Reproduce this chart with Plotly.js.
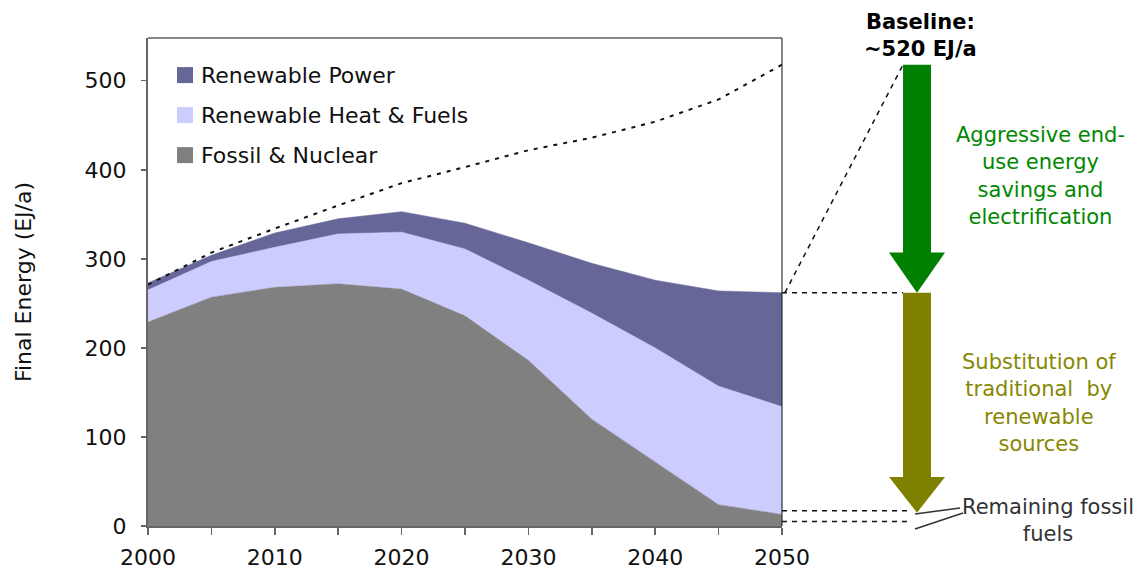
<!DOCTYPE html>
<html>
<head>
<meta charset="utf-8">
<script src="https://cdn.plot.ly/plotly-3.0.1.min.js"></script>
<style>
  html, body { margin: 0; padding: 0; background: #ffffff; }
  #chart { width: 1143px; height: 572px; }
</style>
</head>
<body>
<div id="chart"></div>
<script>
// Final energy scenario, EJ/a
const years = [2000, 2005, 2010, 2015, 2020, 2025, 2030, 2035, 2040, 2045, 2050];
const fossilNuclear = [229, 257, 268, 272, 266, 236, 186, 120, 72, 24, 13];
const renewableHeatFuels = [36, 40, 45, 56, 64, 75, 90, 119, 128, 133, 121];
const renewablePower = [8, 7, 16, 17, 23, 29, 42, 56, 76, 107, 128];
const baseline = [271, 307, 334, 360, 385, 403, 422, 436, 454, 479, 518];

const seriesNames = ['Renewable Power', 'Renewable Heat & Fuels', 'Fossil & Nuclear'];
const seriesColors = ['#666699', '#ccccff', '#808080'];

const xTickVals = [2000, 2005, 2010, 2015, 2020, 2025, 2030, 2035, 2040, 2045, 2050];
const xTickText = ['2000', '', '2010', '', '2020', '', '2030', '', '2040', '', '2050'];
const yTickVals = [0, 100, 200, 300, 400, 500];

// remaining fossil band marked to the right of the plot
const remainingFossilBand = [17, 5];

const FONT = 'DejaVu Sans, Verdana, sans-serif';

const last = years.length - 1;
const total2050 = fossilNuclear[last] + renewableHeatFuels[last] + renewablePower[last];
const baseline2050 = baseline[last];
const fossilTip = 15;

// horizontal positions (paper units) of the arrow column
const shaftL = 1.1909, shaftR = 1.2350, headL = 1.1688, headR = 1.2571, mid = 1.2129;

function arrowPath(top, tip, headLen) {
  const h = tip + headLen;
  return `M${shaftL},${top} L${shaftR},${top} L${shaftR},${h} L${headR},${h} ` +
         `L${mid},${tip} L${headL},${h} L${shaftL},${h} Z`;
}

const traces = [
  {
    x: years, y: fossilNuclear, name: seriesNames[2], type: 'scatter', mode: 'lines',
    stackgroup: 'energy', line: {width: 0.5, color: seriesColors[2]}, fillcolor: seriesColors[2],
    showlegend: false, hoverinfo: 'x+y+name'
  },
  {
    x: years, y: renewableHeatFuels, name: seriesNames[1], type: 'scatter', mode: 'lines',
    stackgroup: 'energy', line: {width: 0.5, color: seriesColors[1]}, fillcolor: seriesColors[1],
    showlegend: false, hoverinfo: 'x+y+name'
  },
  {
    x: years, y: renewablePower, name: seriesNames[0], type: 'scatter', mode: 'lines',
    stackgroup: 'energy', line: {width: 0.5, color: seriesColors[0]}, fillcolor: seriesColors[0],
    showlegend: false, hoverinfo: 'x+y+name'
  },
  {
    x: years, y: baseline, name: 'Baseline', type: 'scatter', mode: 'lines',
    line: {color: '#111111', width: 2, dash: '4px,6px'},
    showlegend: false
  }
];

const dash = {color: '#111111', width: 1.5, dash: '5px,5px'};

const shapes = [
  // frame top and right
  {type: 'line', xref: 'paper', yref: 'paper', x0: 0, x1: 1, y0: 1, y1: 1, line: {color: '#111', width: 1}},
  {type: 'line', xref: 'paper', yref: 'paper', x0: 1, x1: 1, y0: 0, y1: 1, line: {color: '#111', width: 1}},
  // connectors from the 2050 values to the arrows
  {type: 'line', xref: 'paper', yref: 'y', x0: 1.0, x1: shaftL, y0: total2050, y1: total2050, line: dash},
  {type: 'line', xref: 'paper', yref: 'y', x0: 1.0047, x1: shaftL, y0: total2050, y1: baseline2050, line: dash},
  {type: 'line', xref: 'paper', yref: 'y', x0: 1.0, x1: 1.1987, y0: remainingFossilBand[0], y1: remainingFossilBand[0], line: dash},
  {type: 'line', xref: 'paper', yref: 'y', x0: 1.0, x1: 1.1987, y0: remainingFossilBand[1], y1: remainingFossilBand[1], line: dash},
  // efficiency arrow and substitution arrow
  {type: 'path', xref: 'paper', yref: 'y', path: arrowPath(baseline2050, total2050, 45),
   fillcolor: '#008000', line: {width: 0}},
  {type: 'path', xref: 'paper', yref: 'y', path: arrowPath(total2050, fossilTip, 40),
   fillcolor: '#808000', line: {width: 0}},
  // pointer lines for the remaining fossil label
  {type: 'line', xref: 'paper', yref: 'paper', x0: 1.2098, y0: 0.0246, x1: 1.2808, y1: 0.0369, line: {color: '#333', width: 1.5}},
  {type: 'line', xref: 'paper', yref: 'paper', x0: 1.2098, y0: -0.0062, x1: 1.2855, y1: 0.0266, line: {color: '#333', width: 1.5}}
];

// legend swatches and labels
const legendY = [0.924, 0.842, 0.760];
const annotations = [];
seriesNames.forEach((name, i) => {
  shapes.push({type: 'rect', xref: 'paper', yref: 'paper',
    x0: 0.0457, x1: 0.0710, y0: legendY[i] - 0.0164, y1: legendY[i] + 0.0164,
    fillcolor: seriesColors[i], line: {width: 0}});
  annotations.push({xref: 'paper', yref: 'paper', x: 0.0800, y: legendY[i],
    xanchor: 'left', yanchor: 'middle', showarrow: false, text: name,
    font: {family: FONT, size: 22, color: '#111'}});
});

annotations.push(
  {xref: 'paper', yref: 'paper', x: 1.2177, y: 1.0051, xanchor: 'center', yanchor: 'middle',
   showarrow: false, text: '<b>Baseline:<br>~520 EJ/a</b>', font: {family: FONT, size: 21, color: '#000'}},
  {xref: 'paper', yref: 'paper', x: 1.4085, y: 0.7182, xanchor: 'center', yanchor: 'middle',
   showarrow: false, text: 'Aggressive end-<br>use energy<br>savings and<br>electrification',
   font: {family: FONT, size: 21, color: '#008800'}},
  {xref: 'paper', yref: 'paper', x: 1.4054, y: 0.2520, xanchor: 'center', yanchor: 'middle',
   showarrow: false, text: 'Substitution of<br>traditional  by<br>renewable<br>sources',
   font: {family: FONT, size: 21, color: '#878700'}},
  {xref: 'paper', yref: 'paper', x: 1.4196, y: 0.0113, xanchor: 'center', yanchor: 'middle',
   showarrow: false, text: 'Remaining fossil<br>fuels',
   font: {family: FONT, size: 21, color: '#333'}}
);

const layout = {
  width: 1143, height: 572,
  margin: {l: 148, r: 361, t: 38, b: 46, pad: 0},
  paper_bgcolor: '#ffffff', plot_bgcolor: '#ffffff',
  font: {family: FONT, size: 22, color: '#111'},
  showlegend: false,
  xaxis: {
    range: [2000, 2050], tickvals: xTickVals, ticktext: xTickText,
    showgrid: false, zeroline: false, showline: true, linecolor: '#666', linewidth: 2,
    ticks: 'outside', ticklen: 7, tickwidth: 1.5, tickcolor: '#666',
    tickfont: {family: FONT, size: 22, color: '#111'}, ticklabelstandoff: 4
  },
  yaxis: {
    range: [0, 548], tickvals: yTickVals,
    showgrid: false, zeroline: false, showline: true, linecolor: '#666', linewidth: 2,
    ticks: 'outside', ticklen: 5, tickwidth: 1.5, tickcolor: '#666',
    tickfont: {family: FONT, size: 22, color: '#111'}, ticklabelstandoff: 10,
    title: {text: 'Final Energy (EJ/a)', font: {family: FONT, size: 22, color: '#111'}, standoff: 47}
  },
  shapes: shapes,
  annotations: annotations
};

Plotly.newPlot('chart', traces, layout, {displayModeBar: false, staticPlot: true});
</script>
</body>
</html>
